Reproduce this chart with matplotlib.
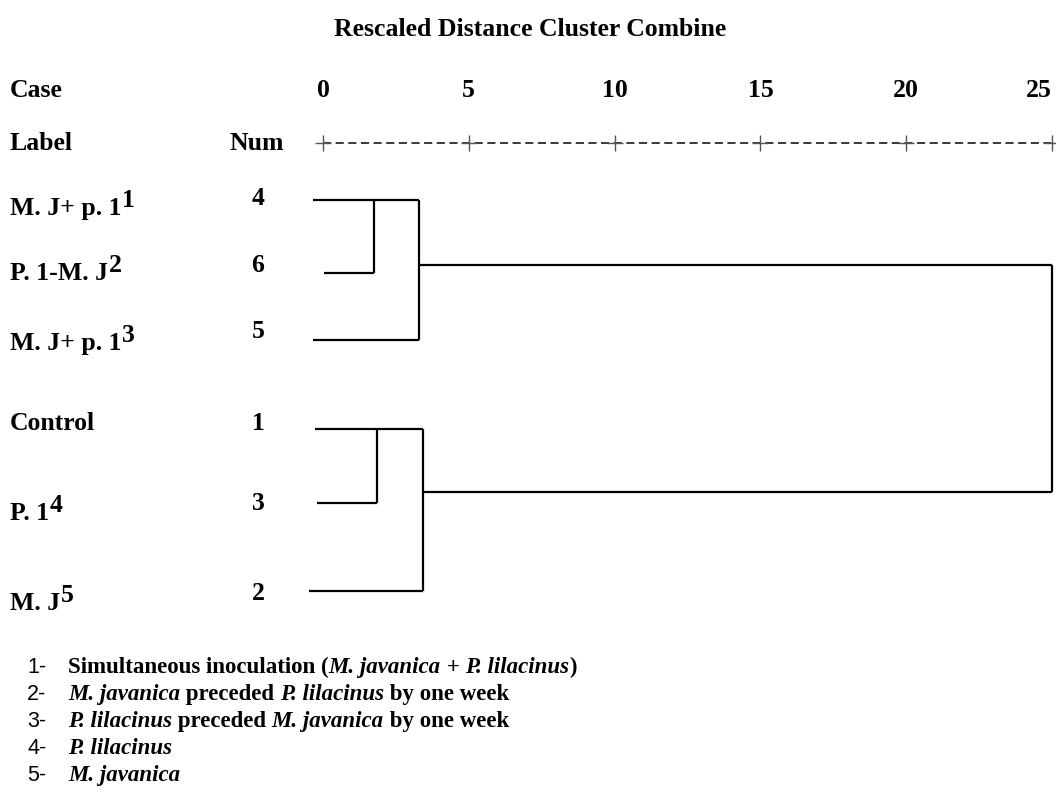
import matplotlib
matplotlib.use("Agg")
import matplotlib.pyplot as plt

# figure in pixels
W, H = 1056, 799

title = "Rescaled Distance Cluster Combine"
ticks = [0, 5, 10, 15, 20, 25]

case_labels = ["M. J+ p. 1", "P. 1-M. J", "M. J+ p. 1", "Control", "P. 1", "M. J"]
case_sup = ["1", "2", "3", "", "4", "5"]
case_num = [4, 6, 5, 1, 3, 2]

# rescaled distances
leaf_start = [-0.34, 0.03, -0.34, -0.27, -0.21, -0.48]
sub_merge = [1.75, 1.85]     # 4+6 , 1+3
group_merge = [3.29, 3.43]   # (4,6)+5 , (1,3)+2
final_merge = 25

notes = [
    [("Simultaneous inoculation (", "normal"), ("M. javanica", "italic"),
     (" + ", "normal"), ("P. lilacinus", "italic"), (")", "normal")],
    [("M. javanica", "italic"), (" preceded ", "normal"),
     ("P. lilacinus", "italic"), (" by one week", "normal")],
    [("P. lilacinus", "italic"), (" preceded ", "normal"),
     ("M. javanica", "italic"), (" by one week", "normal")],
    [("P. lilacinus", "italic")],
    [("M. javanica", "italic")],
]

# layout (pixel rows, from top)
row_y = [200, 273, 340, 429, 503, 591]
num_y = [205, 272, 338, 430, 510, 600]
label_y = [215, 280, 350, 430, 520, 610]
group_y = [265, 492]
note_y = [673, 700, 727, 754, 781]

px0, px25 = 323, 1052
unit = (px25 - px0) / 25.0

SERIF = "Liberation Serif"
FS = 18.5

fig = plt.figure(figsize=(W / 100, H / 100), dpi=100)
ax = fig.add_axes([0, 0, 1, 1])
ax.set_xlim(-px0 / unit, (W - px0) / unit)
ax.set_ylim(H, 0)
ax.axis("off")


def fx(px):
    return px / W


def fy(py):
    return 1 - py / H


def chain(x, y, pieces, **kw):
    t = fig.text(x, y, pieces[0][0], style=pieces[0][1], va="baseline", **kw)
    for txt, st in pieces[1:]:
        t = ax.annotate(txt, xy=(1, 0), xycoords=t, style=st,
                        va="bottom", ha="left", **kw)
    return t


# header
fig.text(fx(530), fy(36), title, family=SERIF, weight="bold", fontsize=FS,
         ha="center", va="baseline")
fig.text(fx(10), fy(97), "Case", family=SERIF, weight="bold", fontsize=FS, va="baseline")
fig.text(fx(10), fy(150), "Label", family=SERIF, weight="bold", fontsize=FS, va="baseline")
fig.text(fx(230), fy(150), "Num", family=SERIF, weight="bold", fontsize=FS, va="baseline")
for t in ticks:
    ha = "right" if t == ticks[-1] else "center"
    ax.text(t, 97, str(t), family=SERIF,
            weight="bold", fontsize=FS, ha=ha, va="baseline")

# scale bar
ax.plot(ticks, [143] * len(ticks), color="#2a2a2a", lw=1.3,
        ls=(0, (4.5, 2.5)))
ax.plot(ticks, [143] * len(ticks), ls="none", color="#555555",
        marker="+", ms=11, mew=1.0)

# case labels and numbers
for i, lab in enumerate(case_labels):
    t = fig.text(fx(10), fy(label_y[i]), lab, family=SERIF, weight="bold",
                 fontsize=FS, va="baseline")
    if case_sup[i]:
        ax.annotate(case_sup[i], xy=(1, 0), xycoords=t, xytext=(0.5, 6),
                    textcoords="offset points", family=SERIF, weight="bold",
                    fontsize=FS, va="bottom", ha="left")
    fig.text(fx(258), fy(num_y[i]), str(case_num[i]), family=SERIF,
             weight="bold", fontsize=FS, ha="center", va="baseline")

# dendrogram
lk = dict(color="black", lw=1.6, solid_capstyle="butt")
for g in range(2):
    a, b, c = 3 * g, 3 * g + 1, 3 * g + 2
    ax.plot([leaf_start[a], group_merge[g]], [row_y[a], row_y[a]], **lk)
    ax.plot([leaf_start[b], sub_merge[g]], [row_y[b], row_y[b]], **lk)
    ax.plot([sub_merge[g], sub_merge[g]], [row_y[a], row_y[b]], **lk)
    ax.plot([leaf_start[c], group_merge[g]], [row_y[c], row_y[c]], **lk)
    ax.plot([group_merge[g], group_merge[g]], [row_y[a], row_y[c]], **lk)
    ax.plot([group_merge[g], final_merge], [group_y[g], group_y[g]], **lk)
ax.plot([final_merge, final_merge], group_y, **lk)

# footnotes
for i, pieces in enumerate(notes):
    fig.text(fx(27), fy(note_y[i]), f"{i + 1}-", family="Liberation Sans",
             fontsize=15.5, va="baseline")
    chain(fx(68), fy(note_y[i]), pieces, family=SERIF, weight="bold", fontsize=16.5)

fig.savefig("out.png", dpi=100)
